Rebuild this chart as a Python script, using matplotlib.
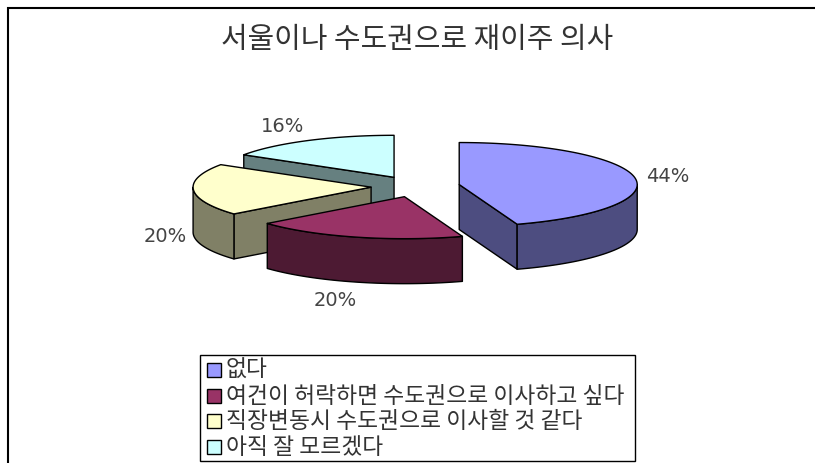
import numpy as np
import matplotlib
matplotlib.use('Agg')
import matplotlib.pyplot as plt
from matplotlib.patches import Polygon, Rectangle

plt.rcParams['font.family'] = ['Noto Sans CJK KR', 'DejaVu Sans']

title = '서울이나 수도권으로 재이주 의사'
categories = ['없다', '여건이 허락하면 수도권으로 이사하고 싶다',
              '직장변동시 수도권으로 이사할 것 같다', '아직 잘 모르겠다']
values = [44, 20, 20, 16]

top_colors = ['#9999FF', '#993366', '#FFFFCC', '#CCFFFF']
side_colors = ['#4D4D80', '#4D1A33', '#808066', '#668080']
label_pos = [(668, 177), (335, 301), (165, 237), (283, 127)]

# pie geometry, in pixels of the figure
cx, cy = 415.5, 186.5
rx, ry = 178, 42
depth = 45
explode = 0.25
W, H = 815, 463


def ellipse(t, ox, oy):
    # t is measured clockwise from 12 o'clock
    # the lower right quadrant gets squeezed a bit by the 3D view
    t = np.where((t > np.pi/2) & (t < np.pi), t + np.radians(3.8)*np.sin(2*(t - np.pi/2)), t)
    return ox + rx*np.sin(t), oy - ry*np.cos(t)


def draw_slice(start, end, top, side, z):
    mid = (start + end)/2
    ox, oy = cx + explode*rx*np.sin(mid), cy - explode*ry*np.cos(mid)

    # cut faces, only the ones turned towards the viewer
    for edge, visible in ((start, np.sin(start) < -1e-6), (end, np.sin(end) > 1e-6)):
        if visible:
            ex, ey = ellipse(edge, ox, oy)
            pts = [(ox, oy), (ex, ey), (ex, ey + depth), (ox, oy + depth)]
            ax.add_patch(Polygon(pts, fc=side, ec='black', lw=1.0, joinstyle='round', zorder=z))

    # outer wall on the front half of the ellipse
    a, b = max(start, np.pi/2), min(end, 3*np.pi/2)
    if b > a:
        t = np.linspace(a, b, 60)
        x, y = ellipse(t, ox, oy)
        pts = np.r_[np.c_[x, y], np.c_[x[::-1], y[::-1] + depth]]
        ax.add_patch(Polygon(pts, fc=side, ec='black', lw=1.0, joinstyle='round', zorder=z))

    # top surface
    t = np.linspace(start, end, 120)
    x, y = ellipse(t, ox, oy)
    pts = np.r_[[(ox, oy)], np.c_[x, y]]
    ax.add_patch(Polygon(pts, fc=top, ec='black', lw=1.0, joinstyle='round', zorder=z))


fig = plt.figure(figsize=(8.15, 4.63), dpi=100)
ax = fig.add_axes([0, 0, 1, 1])
ax.set_xlim(0, W)
ax.set_ylim(H, 0)
ax.axis('off')

# chart area border, cut off on the right and at the bottom
ax.plot([8, 8, W], [H, 8, 8], color='black', lw=1.5, solid_joinstyle='miter', zorder=1)

ax.text(417, 40, title, fontsize=20.8, color='#333333', ha='center', va='center')

# slices are drawn back to front so the nearer ones cover the others
bounds = np.r_[0, np.cumsum(values)]/np.sum(values)*2*np.pi
order = [3, 2, 1, 0]
for n, i in enumerate(order):
    draw_slice(bounds[i], bounds[i+1], top_colors[i], side_colors[i], 3 + n)

for v, (px, py) in zip(values, label_pos):
    ax.text(px, py, f'{v}%', fontsize=14, color='#444444', ha='center', va='center',
            family=['DejaVu Sans'], zorder=10)

# legend box, built by hand to hold its width
ax.add_patch(Rectangle((200, 355), 435, 106, fc='white', ec='black', lw=1.0, zorder=8))
for k, (name, c) in enumerate(zip(categories, top_colors)):
    row = 370 + k*25.6
    ax.add_patch(Rectangle((207, row - 7), 14, 14, fc=c, ec='black', lw=1.0, zorder=9))
    ax.text(226, row + 0.5, name, fontsize=16.4, color='#333333', ha='left', va='center', zorder=9)

fig.savefig('out.png', dpi=100)
